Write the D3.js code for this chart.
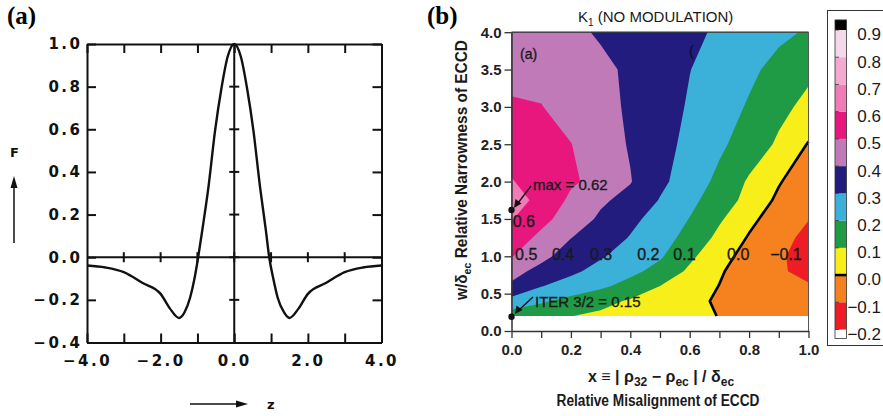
<html>
<head>
<meta charset="utf-8">
<title>F(z) and K1 contours</title>
<script src="https://d3js.org/d3.v7.min.js"></script>
<style>
body { margin: 0; background: #fff; }
svg { display: block; }
.mono text { font-family: 'DejaVu Sans', sans-serif; font-weight: bold; font-size: 15px; letter-spacing: 2.5px; fill: #111; }
.sans { font-family: 'Liberation Sans', Arial, sans-serif; fill: #1a1a1a; }
</style>
</head>
<body>
<div id="chart"></div>
<script>

// ---- panel (a): F(z) ----
var zVals = [-4, -3.5, -3, -2.5, -2, -1.75, -1.5, -1.35, -1.2, -1.08, -0.98, -0.87, -0.7, -0.52, -0.35, -0.18, 0,
             0.18, 0.35, 0.52, 0.7, 0.86, 0.95, 1.06, 1.18, 1.35, 1.5, 1.75, 2, 2.5, 3, 3.5, 4];
var fVals = [-0.039, -0.048, -0.07, -0.12, -0.172, -0.24, -0.285, -0.258, -0.19, -0.1, 0, 0.125, 0.33, 0.595, 0.79, 0.94, 1.0,
             0.94, 0.79, 0.595, 0.33, 0.125, 0, -0.1, -0.19, -0.258, -0.285, -0.24, -0.172, -0.12, -0.07, -0.048, -0.039];
var zTickMarks = [-4, -3, -2, -1, 0, 1, 2, 3, 4];
var zTickLabels = [-4, -2, 0, 2, 4];
var fTickMarks = [-0.4, -0.2, 0, 0.2, 0.4, 0.6, 0.8, 1.0];

// ---- panel (b): K1 on (x, w/delta_ec) grid ----
var xGrid = [0, 0.1, 0.2, 0.3, 0.4, 0.5, 0.6, 0.7, 0.8, 0.9, 1.0];
var wGrid = [0.2, 0.4, 0.6, 0.8, 1.0, 1.25, 1.5, 1.75, 2.0, 2.5, 3.0, 3.5, 4.0];
var kW020 = [0.15, 0.125, 0.102, 0.081, 0.06, 0.04, 0.019, -0.002, -0.02, -0.035, -0.045];
var kW040 = [0.265, 0.215, 0.169, 0.129, 0.09, 0.059, 0.025, -0.012, -0.035, -0.055, -0.07];
var kW060 = [0.385, 0.303, 0.26, 0.218, 0.164, 0.099, 0.05, -0.002, -0.05, -0.078, -0.094];
var kW080 = [0.43, 0.373, 0.318, 0.27, 0.226, 0.166, 0.083, 0.011, -0.05, -0.092, -0.118];
var kW100 = [0.505, 0.424, 0.36, 0.309, 0.262, 0.212, 0.119, 0.038, -0.038, -0.09, -0.13];
var kW125 = [0.555, 0.477, 0.402, 0.348, 0.295, 0.239, 0.169, 0.075, -0.008, -0.075, -0.12];
var kW150 = [0.605, 0.53, 0.452, 0.385, 0.322, 0.265, 0.197, 0.113, 0.025, -0.05, -0.098];
var kW175 = [0.62, 0.587, 0.478, 0.415, 0.37, 0.295, 0.225, 0.15, 0.07, -0.02, -0.09];
var kW200 = [0.605, 0.56, 0.515, 0.467, 0.405, 0.32, 0.255, 0.175, 0.088, 0.008, -0.065];
var kW250 = [0.56, 0.53, 0.502, 0.447, 0.392, 0.334, 0.275, 0.218, 0.153, 0.086, -0.006];
var kW300 = [0.508, 0.503, 0.465, 0.427, 0.388, 0.345, 0.29, 0.245, 0.19, 0.125, 0.075];
var kW350 = [0.48, 0.47, 0.445, 0.42, 0.385, 0.345, 0.302, 0.26, 0.22, 0.17, 0.12];
var kW400 = [0.465, 0.44, 0.42, 0.39, 0.37, 0.34, 0.315, 0.29, 0.255, 0.22, 0.19];

var levels = [-0.2, -0.1, 0, 0.1, 0.2, 0.3, 0.4, 0.5, 0.6, 0.7, 0.8, 0.9];
var levelColors = ["#ee1c24", "#f5821f", "#f8ef1a", "#1f9a45", "#3bb1d9", "#211c7e",
                   "#c07ab8", "#e8177e", "#f07cb7", "#f3a9d0", "#f5d8ea", "#000000"];
var wTicks = [0, 0.5, 1.0, 1.5, 2.0, 2.5, 3.0, 3.5, 4.0];
var xTickMarks = [0, 0.1, 0.2, 0.3, 0.4, 0.5, 0.6, 0.7, 0.8, 0.9, 1.0];
var xTickLabels = [0, 0.2, 0.4, 0.6, 0.8, 1.0];
var contourLabels = [
  {x: 0.012, w: 1.0, t: "0.5"}, {x: 0.136, w: 1.0, t: "0.4"}, {x: 0.264, w: 1.0, t: "0.3"},
  {x: 0.423, w: 1.0, t: "0.2"}, {x: 0.545, w: 1.0, t: "0.1"}, {x: 0.726, w: 1.0, t: "0.0"},
  {x: 0.871, w: 1.0, t: "\u22120.1"}, {x: 0.004, w: 1.45, t: "0.6"}
];
var maxPoint = {x: 0, w: 1.62};
var iterPoint = {x: 0, w: 0.19};

var svg = d3.select("#chart").append("svg")
  .attr("width", 883)
  .attr("height", 416);

// ================= panel (a) =================
var x = d3.scaleLinear().domain([-4, 4]).range([87, 381.5]);
var y = d3.scaleLinear().domain([-0.4, 1.0]).range([342.5, 44]);

var left = svg.append("g").attr("class", "mono");

left.append("g")
  .attr("transform", "translate(0," + y(-0.4) + ")")
  .call(d3.axisBottom(x).tickValues(zTickMarks).tickSizeInner(-9).tickSizeOuter(0).tickPadding(13)
    .tickFormat(d => zTickLabels.indexOf(d) >= 0 ? d3.format(".1f")(d) : ""));
left.append("g")
  .attr("transform", "translate(0," + y(1.0) + ")")
  .call(d3.axisTop(x).tickValues(zTickMarks).tickSizeInner(-9).tickSizeOuter(0).tickFormat(""));
left.append("g")
  .attr("transform", "translate(" + x(-4) + ",0)")
  .call(d3.axisLeft(y).tickValues(fTickMarks).tickSizeInner(-9).tickSizeOuter(0).tickPadding(4.5)
    .tickFormat(d3.format(".1f")));
left.append("g")
  .attr("transform", "translate(" + x(4) + ",0)")
  .call(d3.axisRight(y).tickValues(fTickMarks).tickSizeInner(-9).tickSizeOuter(0).tickFormat(""));

left.selectAll(".domain").attr("stroke", "#111").attr("stroke-width", 2);
left.selectAll(".tick line").attr("stroke", "#111").attr("stroke-width", 2);
left.selectAll(".tick text").attr("fill", "#111");

// zero lines with crossing ticks
left.append("line").attr("x1", x(-4)).attr("x2", x(4)).attr("y1", y(0)).attr("y2", y(0))
  .attr("stroke", "#111").attr("stroke-width", 2);
left.append("line").attr("x1", x(0)).attr("x2", x(0)).attr("y1", y(-0.4)).attr("y2", y(1.0))
  .attr("stroke", "#111").attr("stroke-width", 2);
left.selectAll(".zt").data(zTickMarks.slice(1, -1)).enter().append("line")
  .attr("x1", d => x(d)).attr("x2", d => x(d)).attr("y1", y(0) - 5).attr("y2", y(0) + 5)
  .attr("stroke", "#111").attr("stroke-width", 2);
left.selectAll(".ft").data(fTickMarks.slice(1, -1)).enter().append("line")
  .attr("x1", x(0) - 5).attr("x2", x(0) + 5).attr("y1", d => y(d)).attr("y2", d => y(d))
  .attr("stroke", "#111").attr("stroke-width", 2);

left.append("path")
  .datum(d3.zip(zVals, fVals))
  .attr("fill", "none")
  .attr("stroke", "#111")
  .attr("stroke-width", 2.4)
  .attr("d", d3.line().x(d => x(d[0])).y(d => y(d[1])).curve(d3.curveMonotoneX));

// F and z labels with arrows
left.append("text").attr("x", 10).attr("y", 157).style("font-size", "13px").style("letter-spacing", "0px").text("F");
left.append("line").attr("x1", 14).attr("x2", 14).attr("y1", 243).attr("y2", 184)
  .attr("stroke", "#111").attr("stroke-width", 1.5);
left.append("path").attr("d", "M14,176 L10.5,188 L17.5,188 Z").attr("fill", "#111");
left.append("text").attr("x", 267).attr("y", 409).style("font-size", "13px").style("letter-spacing", "0px").text("z");
left.append("line").attr("x1", 190).attr("x2", 240).attr("y1", 404).attr("y2", 404)
  .attr("stroke", "#111").attr("stroke-width", 1.5);
left.append("path").attr("d", "M248,404 L236,400.5 L236,407.5 Z").attr("fill", "#111");

svg.append("text").attr("x", 7).attr("y", 24)
  .style("font-family", "'Liberation Serif', serif").style("font-weight", "bold").style("font-size", "25px")
  .text("(a)");

// ================= panel (b) =================
var xs = d3.scaleLinear().domain([0, 1]).range([511.5, 808.5]);
var ws = d3.scaleLinear().domain([0, 4]).range([331, 32.2]);

var nx = xGrid.length, ny = wGrid.length;
var kValues = [].concat(kW020, kW040, kW060, kW080, kW100, kW125, kW150, kW175, kW200, kW250, kW300, kW350, kW400);
var ix = d3.scaleLinear().domain(d3.range(nx)).range(xGrid).clamp(true);
var iw = d3.scaleLinear().domain(d3.range(ny)).range(wGrid).clamp(true);

var gridProj = d3.geoTransform({
  point: function(gx, gy) { this.stream.point(xs(ix(gx - 0.5)), ws(iw(gy - 0.5))); }
});
var gridPath = d3.geoPath(gridProj);

var bands = d3.contours().size([nx, ny]).thresholds(levels)(kValues);
var right = svg.append("g");
right.selectAll("path.band").data(bands).enter().append("path")
  .attr("class", "band")
  .attr("d", gridPath)
  .attr("fill", (d, i) => levelColors[i]);

// zero contour as a black line (interior part only)
var zeroContour = d3.contours().size([nx, ny]).contour(kValues, 0);
var toData = p => [ix(p[0] - 0.5), iw(p[1] - 0.5)];
var onEdge = d => d[0] <= 1e-6 || d[0] >= 1 - 1e-6 || d[1] <= wGrid[0] + 1e-6 || d[1] >= wGrid[ny - 1] - 1e-6;
var zeroLines = [];
zeroContour.coordinates.forEach(function(poly) {
  poly.forEach(function(ring) {
    var cur = [];
    for (var k = 0; k < ring.length - 1; k++) {
      var a = toData(ring[k]), b = toData(ring[k + 1]);
      if (onEdge(a) && onEdge(b)) { if (cur.length) zeroLines.push(cur); cur = []; continue; }
      if (!cur.length) cur.push(a);
      cur.push(b);
    }
    if (cur.length) zeroLines.push(cur);
  });
});
right.selectAll("path.zero").data(zeroLines).enter().append("path")
  .attr("class", "zero")
  .attr("fill", "none").attr("stroke", "#000").attr("stroke-width", 2.6).attr("stroke-linejoin", "round")
  .attr("d", d3.line().x(d => xs(d[0])).y(d => ws(d[1])));

// frame and axes
right.append("line").attr("x1", xs(0)).attr("x2", xs(1)).attr("y1", ws(4)).attr("y2", ws(4))
  .attr("stroke", "#333").attr("stroke-width", 1.2);
right.append("line").attr("x1", xs(1)).attr("x2", xs(1)).attr("y1", ws(4)).attr("y2", ws(0))
  .attr("stroke", "#555").attr("stroke-width", 1);

var yAx = right.append("g").attr("class", "sans")
  .attr("transform", "translate(" + xs(0) + ",0)")
  .call(d3.axisLeft(ws).tickValues(wTicks).tickSizeInner(7).tickSizeOuter(0).tickPadding(3).tickFormat(d3.format(".1f")));
var xAx = right.append("g").attr("class", "sans")
  .attr("transform", "translate(0," + ws(0) + ")")
  .call(d3.axisBottom(xs).tickValues(xTickMarks).tickSizeInner(7).tickSizeOuter(0).tickPadding(6)
    .tickFormat(d => xTickLabels.some(v => Math.abs(v - d) < 1e-9) ? d3.format(".1f")(d) : ""));
right.selectAll(".domain").attr("stroke", "#333").attr("stroke-width", 1.5);
right.selectAll(".tick line").attr("stroke", "#333").attr("stroke-width", 1.3);
right.selectAll(".tick text")
  .style("font-family", "'Liberation Sans', Arial, sans-serif")
  .style("font-weight", "bold").style("font-size", "15px").attr("fill", "#222");

// title
var title = svg.append("text").attr("class", "sans").attr("x", 578).attr("y", 22).style("font-size", "15px");
title.append("tspan").text("K");
title.append("tspan").attr("dy", 4).style("font-size", "10px").text("1");
title.append("tspan").attr("dy", -4).text(" (NO MODULATION)");

svg.append("text").attr("x", 427).attr("y", 24)
  .style("font-family", "'Liberation Serif', serif").style("font-weight", "bold").style("font-size", "25px")
  .text("(b)");

// axis titles
var yTitle = svg.append("text").attr("class", "sans")
  .attr("transform", "translate(467,170) rotate(-90)")
  .attr("text-anchor", "middle")
  .style("font-weight", "bold").style("font-size", "16px")
  .attr("textLength", 260).attr("lengthAdjust", "spacingAndGlyphs");
yTitle.append("tspan").text("w/\u03b4");
yTitle.append("tspan").attr("dy", 4).style("font-size", "11px").text("ec");
yTitle.append("tspan").attr("dy", -4).text(" Relative Narrowness of ECCD");

var xTitle = svg.append("text").attr("class", "sans")
  .attr("x", 661).attr("y", 382).attr("text-anchor", "middle")
  .style("font-weight", "bold").style("font-size", "16px");
xTitle.append("tspan").text("x \u2261 | \u03c1");
xTitle.append("tspan").attr("dy", 4).style("font-size", "12px").text("32");
xTitle.append("tspan").attr("dy", -4).text(" \u2212 \u03c1");
xTitle.append("tspan").attr("dy", 4).style("font-size", "12px").text("ec");
xTitle.append("tspan").attr("dy", -4).text(" | / \u03b4");
xTitle.append("tspan").attr("dy", 4).style("font-size", "12px").text("ec");

svg.append("text").attr("class", "sans")
  .attr("x", 658).attr("y", 406).attr("text-anchor", "middle")
  .style("font-weight", "bold").style("font-size", "16px")
  .attr("textLength", 203).attr("lengthAdjust", "spacingAndGlyphs")
  .text("Relative Misalignment of ECCD");

// annotations inside the contour plot
var ann = right.append("g").attr("class", "sans")
  .style("font-size", "15px").attr("stroke", "#1a1a1a").attr("stroke-width", 0.35);
ann.append("text").attr("x", 520).attr("y", 59).style("font-size", "14px").text("(a)");
ann.append("text").attr("x", 689).attr("y", 56).style("font-size", "15px").attr("fill", "#0a0a30").text("(");
ann.selectAll("text.cl").data(contourLabels).enter().append("text")
  .attr("class", "cl")
  .attr("x", d => xs(d.x)).attr("y", d => ws(d.w) + 4)
  .style("font-size", "16px")
  .text(d => d.t);
ann.append("text").attr("x", 533).attr("y", 190).text("max = 0.62");
ann.append("text").attr("x", 535).attr("y", 307).text("ITER 3/2 = 0.15");

right.selectAll("circle.pt").data([maxPoint, iterPoint]).enter().append("circle")
  .attr("cx", d => xs(d.x)).attr("cy", d => ws(d.w)).attr("r", 3.2).attr("fill", "#111");
right.append("line").attr("x1", 531).attr("y1", 186).attr("x2", 518).attr("y2", 203)
  .attr("stroke", "#111").attr("stroke-width", 1.3);
right.append("path").attr("d", "M514,208 L515.5,199 L521.5,203.5 Z").attr("fill", "#111");
right.append("line").attr("x1", 533).attr("y1", 297).attr("x2", 519).attr("y2", 310)
  .attr("stroke", "#111").attr("stroke-width", 1.3);
right.append("path").attr("d", "M515,314 L516.5,305.5 L522.5,310 Z").attr("fill", "#111");

// ================= colour bar =================
var cb = d3.scaleLinear().domain([-0.2, 0.9]).range([329.5, 30]);
var cbLo = -0.233, cbHi = 0.937;
var cbBands = [{lo: cbLo, hi: levels[0], c: "#ffffff"}].concat(levels.map((v, i) => ({
  lo: v, hi: i < levels.length - 1 ? levels[i + 1] : cbHi, c: levelColors[i]
})));
var bar = svg.append("g");
bar.append("rect").attr("x", 827.5).attr("y", 10.5).attr("width", 70).attr("height", 335)
  .attr("fill", "#fff").attr("stroke", "#333").attr("stroke-width", 1);
bar.selectAll("rect.sw").data(cbBands).enter().append("rect")
  .attr("class", "sw")
  .attr("x", 835).attr("width", 11.5)
  .attr("y", d => cb(d.hi)).attr("height", d => cb(d.lo) - cb(d.hi))
  .attr("fill", d => d.c);
bar.append("rect").attr("x", 835).attr("width", 11.5).attr("y", cb(cbHi)).attr("height", cb(cbLo) - cb(cbHi))
  .attr("fill", "none").attr("stroke", "#333").attr("stroke-width", 0.8);
bar.selectAll("line.tk").data(levels).enter().append("line")
  .attr("x1", 835).attr("x2", 839).attr("y1", d => cb(d)).attr("y2", d => cb(d))
  .attr("stroke", "#333").attr("stroke-width", 0.8);
bar.append("line").attr("x1", 835).attr("x2", 846.5).attr("y1", cb(0)).attr("y2", cb(0))
  .attr("stroke", "#000").attr("stroke-width", 2.5);
bar.selectAll("text.lb").data(levels).enter().append("text")
  .attr("class", "lb sans")
  .attr("x", 881).attr("y", d => cb(d) + 4.5).attr("dy", "0.35em")
  .attr("text-anchor", "end")
  .style("font-size", "17px")
  .text(d => d3.format(".1f")(d));

</script>
</body>
</html>
